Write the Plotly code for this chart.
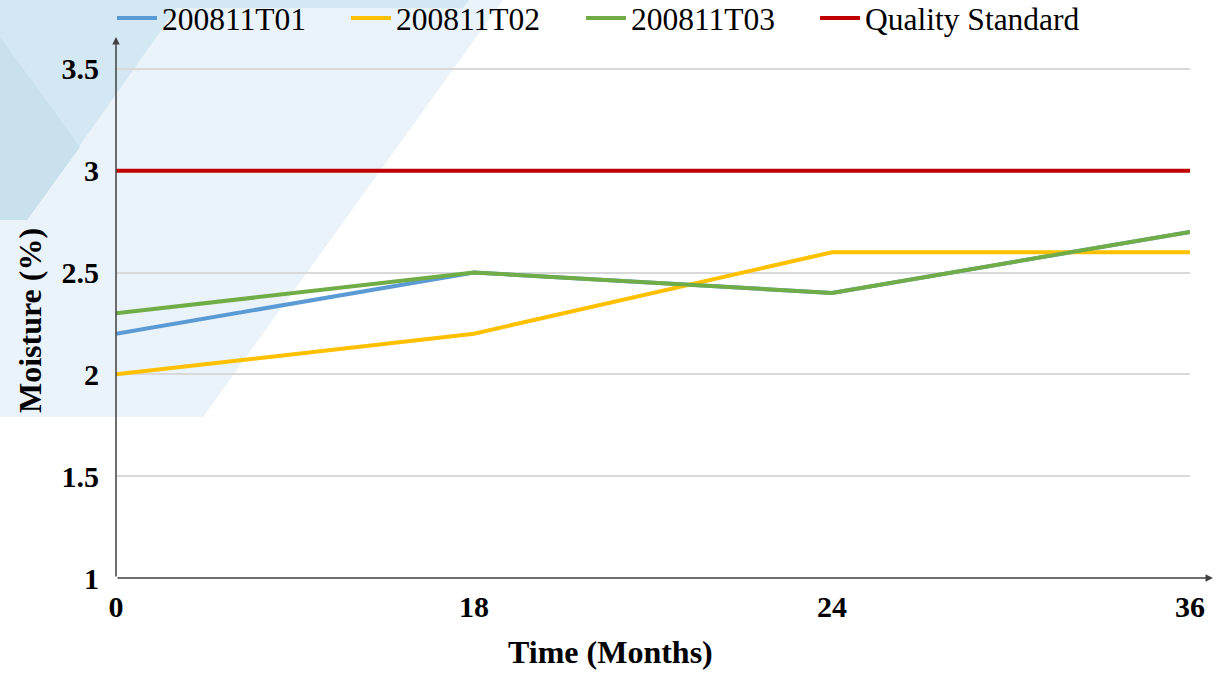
import plotly.graph_objects as go

# ---- data ----
months = ["0", "18", "24", "36"]
t01 = [2.2, 2.5, 2.4, 2.7]
t02 = [2.0, 2.2, 2.6, 2.6]
t03 = [2.3, 2.5, 2.4, 2.7]
standard = [3, 3, 3, 3]
y_ticks = [1, 1.5, 2, 2.5, 3, 3.5]
y_tick_labels = ["1", "1.5", "2", "2.5", "3", "3.5"]

series_names = ["200811T01", "200811T02", "200811T03", "Quality Standard"]
series_values = [t01, t02, t03, standard]
series_colors = ["#5B9BD5", "#FFC000", "#70AD47", "#C00000"]
legend_ids = ["legend", "legend2", "legend3", "legend4"]
legend_px = [112, 346, 581, 815]

x_title = "Time (Months)"
y_title = "Moisture (%)"

W, H = 1222, 675
L, R, T, B = 116, 32, 38, 97
PW, PH = W - L - R, H - T - B


def px(x, y):
    """pixel -> paper coords"""
    return (x - L) / PW, (H - B - y) / PH


def poly(points):
    pts = [px(x, y) for x, y in points]
    return "M " + " L ".join(f"{a:.4f},{b:.4f}" for a, b in pts) + " Z"


fig = go.Figure()
for name, vals, color, lid in zip(series_names, series_values, series_colors, legend_ids):
    fig.add_trace(go.Scatter(
        x=months, y=vals, name=name, mode="lines", legend=lid,
        line=dict(color=color, width=4),
    ))

shapes = [
    dict(type="path", path=poly([(0, 0), (503, 0), (203, 417), (0, 417)]),
         xref="paper", yref="paper", fillcolor="#EAF2FA", line=dict(width=0), layer="below"),
    dict(type="path", path=poly([(0, 0), (469, 0), (463, 8), (0, 8)]),
         xref="paper", yref="paper", fillcolor="#D4E8F3", line=dict(width=0), layer="below"),
    dict(type="path", path=poly([(0, 8), (177, 8), (27, 220), (0, 220)]),
         xref="paper", yref="paper", fillcolor="#D4E8F3", line=dict(width=0), layer="below"),
    dict(type="path", path=poly([(0, 37), (80, 147), (27, 220), (0, 220)]),
         xref="paper", yref="paper", fillcolor="#C8E1EC", line=dict(width=0), layer="below"),
]

xt = px(610, 652)
yt = px(30, 321)
annotations = [
    dict(x=0, y=px(0, 37)[1], xref="paper", yref="paper", ax=0, ay=541,
         showarrow=True, arrowhead=2, arrowsize=1, arrowwidth=1.5,
         arrowcolor="#404040", text=""),
    dict(x=px(1213, 0)[0], y=0, xref="paper", yref="paper", ax=-(1213 - L), ay=0,
         showarrow=True, arrowhead=2, arrowsize=1, arrowwidth=1.5,
         arrowcolor="#404040", text=""),
    dict(x=xt[0], y=xt[1], xref="paper", yref="paper", xanchor="center", yanchor="middle",
         showarrow=False, text=f"<b>{x_title}</b>",
         font=dict(size=32, family="Liberation Serif", color="black")),
    dict(x=yt[0], y=yt[1], xref="paper", yref="paper", xanchor="center", yanchor="middle",
         showarrow=False, text=f"<b>{y_title}</b>", textangle=-90,
         font=dict(size=32, family="Liberation Serif", color="black")),
]

legend_common = dict(orientation="h", xanchor="left", yanchor="middle", y=px(0, 18)[1],
                     font=dict(size=31.5, family="Liberation Serif", color="black"),
                     bgcolor="rgba(0,0,0,0)", itemwidth=40)

layout_legends = {}
for lid, lx in zip(legend_ids, legend_px):
    layout_legends[lid] = dict(legend_common, x=px(lx, 0)[0])

fig.update_layout(
    width=W, height=H,
    margin=dict(l=L, r=R, t=T, b=B, autoexpand=False),
    paper_bgcolor="white", plot_bgcolor="rgba(0,0,0,0)",
    font=dict(family="Liberation Serif", color="black"),
    shapes=shapes, annotations=annotations,
    showlegend=True,
    xaxis=dict(
        type="category", range=[0, 3], showgrid=False, zeroline=False,
        showline=False, ticks="", ticklabelstandoff=8,
        tickfont=dict(size=30, family="Liberation Serif", weight="bold"),
        automargin=False,
    ),
    yaxis=dict(
        range=[1, 3.652], tickvals=y_ticks, ticktext=y_tick_labels,
        showgrid=True, gridcolor="#D9D9D9", gridwidth=1.5, zeroline=False,
        showline=False, ticks="", ticklabelstandoff=16,
        tickfont=dict(size=30, family="Liberation Serif", weight="bold"),
        automargin=False,
    ),
    **layout_legends,
)

fig.write_html("out.html", config={"displayModeBar": False},
               post_script="document.body.style.margin='0';document.body.style.overflow='hidden';")
